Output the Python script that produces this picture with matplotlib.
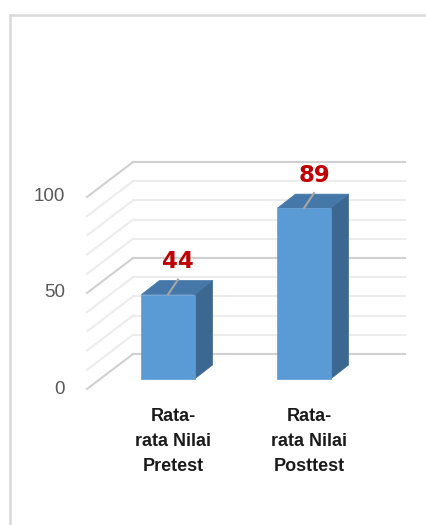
import numpy as np
import matplotlib.pyplot as plt
from matplotlib.patches import Polygon

categories = ["Rata-\nrata Nilai\nPretest", "Rata-\nrata Nilai\nPosttest"]
values = [44, 89]
major_ticks = [0, 50, 100]
minor_ticks = list(range(0, 101, 10))

W, H, DPI = 426, 525, 100
fig = plt.figure(figsize=(W / DPI, H / DPI), dpi=DPI)

# front plane of the plot area, in figure pixels
left, right, bottom, top = 87, 359, 389, 197
ax = fig.add_axes([left / W, 1 - bottom / H, (right - left) / W, (bottom - top) / H])
ax.set_xlim(-0.5, 1.5)
ax.set_ylim(0, 100)
ax.axis("off")

# depth offsets in pixels (oblique projection)
WALL = (46, 35)
BAR_FRONT = (13, 10)
BAR_DEPTH = (18, 14)


def shift(x, y, d):
    px = ax.transData.transform((x, y)) + np.array(d)
    return ax.transData.inverted().transform(px)


def poly(pts, color, z=2):
    ax.add_patch(Polygon(pts, closed=True, facecolor=color, edgecolor=color,
                         lw=0.5, clip_on=False, zorder=z))


# walls: back gridlines + left side diagonals
for v in minor_ticks:
    c = "#d0d0d0" if v in major_ticks else "#ececec"
    b0 = shift(-0.5, v, WALL)
    b1 = shift(1.5, v, WALL)
    ax.plot([b0[0], b1[0]], [b0[1], b1[1]], color=c, lw=1.5, clip_on=False, zorder=1)
    ax.plot([-0.5, b0[0]], [v, b0[1]], color=c, lw=1.5, clip_on=False, zorder=1)

for v in major_ticks:
    ax.annotate(str(v), (-0.5, v), xytext=(-22, 0), textcoords="offset pixels",
                ha="right", va="center", fontsize=13.5, color="#595959",
                family="Liberation Sans", annotation_clip=False)

# bars
bw = 0.39
for i, v in enumerate(values):
    x0, x1 = i - bw / 2, i + bw / 2
    fl = shift(x0, 0, BAR_FRONT)
    fr = shift(x1, 0, BAR_FRONT)
    tl = shift(x0, v, BAR_FRONT)
    tr = shift(x1, v, BAR_FRONT)
    d = (BAR_FRONT[0] + BAR_DEPTH[0], BAR_FRONT[1] + BAR_DEPTH[1])
    br = shift(x1, 0, d)
    btl = shift(x0, v, d)
    btr = shift(x1, v, d)
    poly([fr, tr, btr, br], "#3c6791")
    poly([tl, tr, btr, btl], "#4677a9")
    poly([fl, fr, tr, tl], "#5b9bd5", 3)

    # leader line and value label
    top_c = shift(i, v, BAR_FRONT)
    lead = shift(i, v, (BAR_FRONT[0] + 10, BAR_FRONT[1] + 15))
    ax.plot([top_c[0], lead[0]], [top_c[1], lead[1]], color="#a6a6a6", lw=1.5,
            clip_on=False, zorder=4)
    lab = shift(i, v, (BAR_FRONT[0] + 10, BAR_FRONT[1] + 33))
    ax.text(lab[0], lab[1], str(v), ha="center", va="center", fontsize=16.5,
            fontweight="bold", color="#c00000", family="DejaVu Sans", zorder=5)

    # category label
    ax.annotate(categories[i], (i, 0), xytext=(18, -19), textcoords="offset pixels",
                ha="center", va="top", fontsize=13, fontweight="bold",
                color="#1a1a1a", family="Liberation Sans", linespacing=1.6,
                multialignment="center", annotation_clip=False)

# chart area border
fig.add_artist(plt.Line2D([10 / W, 1], [1 - 15 / H, 1 - 15 / H], color="#d9d9d9", lw=1.8))
fig.add_artist(plt.Line2D([10 / W, 10 / W], [0, 1 - 15 / H], color="#d9d9d9", lw=1.8))

fig.savefig("out.png", dpi=DPI)
